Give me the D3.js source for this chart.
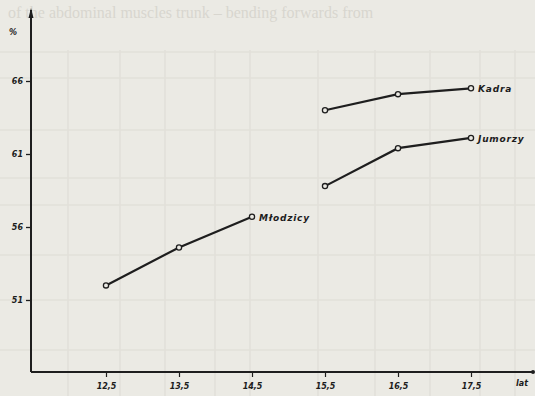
<!DOCTYPE html>
<html><head><meta charset="utf-8">
<script src="https://cdn.jsdelivr.net/npm/d3@7"></script>
<style>
html,body{margin:0;padding:0;background:#ebeae4;}
svg{display:block;}
text{font-family:"DejaVu Sans",sans-serif;font-style:italic;font-weight:bold;fill:#1c1c1c;}
</style></head>
<body>
<svg id="c" width="535" height="396"></svg>
<script>
const ages = [12.5, 13.5, 14.5, 15.5, 16.5, 17.5];
const xTickLabels = ["12,5", "13,5", "14,5", "15,5", "16,5", "17,5"];
const yTicks = [51, 56, 61, 66];
const mlodzicyX = [12.5, 13.5, 14.5];
const mlodzicyY = [52.0, 54.6, 56.7];
const juniorzyX = [15.5, 16.5, 17.5];
const juniorzyY = [58.8, 61.4, 62.1];
const kadraX = [15.5, 16.5, 17.5];
const kadraY = [64.0, 65.1, 65.5];
const seriesNames = ["Młodzicy", "Jumorzy", "Kadra"];
const yUnit = "%";
const xUnit = "lat";

const svg = d3.select("#c");
const W = 535, H = 396;

// faint show-through of the scanned page
const bg = svg.append("g").attr("stroke", "#e2e0da").attr("stroke-width", 1.6).attr("fill", "none");
[52, 78, 130, 178, 205, 255, 300, 350].forEach(y => bg.append("line").attr("x1", 0).attr("x2", W).attr("y1", y).attr("y2", y));
[68, 120, 165, 215, 250, 318, 375, 430, 480, 515].forEach(x => bg.append("line").attr("x1", x).attr("x2", x).attr("y1", 50).attr("y2", H));
svg.append("text").attr("x", 8).attr("y", 18).attr("font-size", 16).style("font-style", "normal").style("font-weight", "normal")
  .style("font-family", "Liberation Serif, serif").style("fill", "#d8d6cf")
  .text("of the abdominal muscles trunk – bending forwards from");

const x = d3.scaleLinear().domain([12.5, 17.5]).range([106, 471]);
const y = d3.scaleLinear().domain([51, 66]).range([300, 81]);
const x0 = 31, yb = 372;

const ink = "#1e1e1e";
// axis lines
svg.append("line").attr("x1", x0).attr("x2", x0).attr("y1", 10).attr("y2", yb).attr("stroke", ink).attr("stroke-width", 2);
svg.append("line").attr("x1", x0).attr("x2", 533).attr("y1", yb).attr("y2", yb).attr("stroke", ink).attr("stroke-width", 2);
svg.append("path").attr("d", `M${x0-2.5},18 L${x0},8 L${x0+2.5},18 Z`).attr("fill", ink);
svg.append("circle").attr("cx", 533).attr("cy", yb).attr("r", 2).attr("fill", ink);

// y axis
const yAxis = d3.axisLeft(y).tickValues(yTicks).tickSize(5).tickPadding(3);
const gy = svg.append("g").attr("transform", `translate(${x0},0)`).call(yAxis);
gy.select(".domain").remove();
gy.selectAll("line").attr("stroke", ink).attr("stroke-width", 1.3);
gy.selectAll("text").attr("font-size", 8).style("font-family", "DejaVu Sans, sans-serif").attr("fill", ink);
svg.append("text").attr("x", 13).attr("y", 35).attr("font-size", 8).attr("text-anchor", "middle").text(yUnit);

// x axis
const xAxis = d3.axisBottom(x).tickValues(ages).tickSize(5).tickPadding(6).tickFormat((d, i) => xTickLabels[i]);
const gx = svg.append("g").attr("transform", `translate(0,${yb})`).call(xAxis);
gx.select(".domain").remove();
gx.selectAll("line").attr("stroke", ink).attr("stroke-width", 1.2);
gx.selectAll("text").attr("font-size", 8).style("font-family", "DejaVu Sans, sans-serif").attr("fill", ink);
svg.append("text").attr("x", 522).attr("y", 386).attr("font-size", 8).attr("text-anchor", "middle").text(xUnit);

// series
const series = [
  {name: seriesNames[0], xs: mlodzicyX, ys: mlodzicyY},
  {name: seriesNames[1], xs: juniorzyX, ys: juniorzyY},
  {name: seriesNames[2], xs: kadraX, ys: kadraY}
];
const line = d3.line().x(d => x(d[0])).y(d => y(d[1]));
series.forEach(s => {
  const pts = s.xs.map((v, i) => [v, s.ys[i]]);
  svg.append("path").datum(pts).attr("d", line).attr("fill", "none").attr("stroke", ink).attr("stroke-width", 2.2);
  svg.append("g").selectAll("circle").data(pts).join("circle")
    .attr("cx", d => x(d[0])).attr("cy", d => y(d[1])).attr("r", 2.6)
    .attr("fill", "#ebeae4").attr("stroke", ink).attr("stroke-width", 1.3);
  const last = pts[pts.length - 1];
  svg.append("text").attr("x", x(last[0]) + 7).attr("y", y(last[1]) + 4)
    .attr("font-size", 9).attr("letter-spacing", 0.8).text(s.name);
});
</script>
</body></html>
